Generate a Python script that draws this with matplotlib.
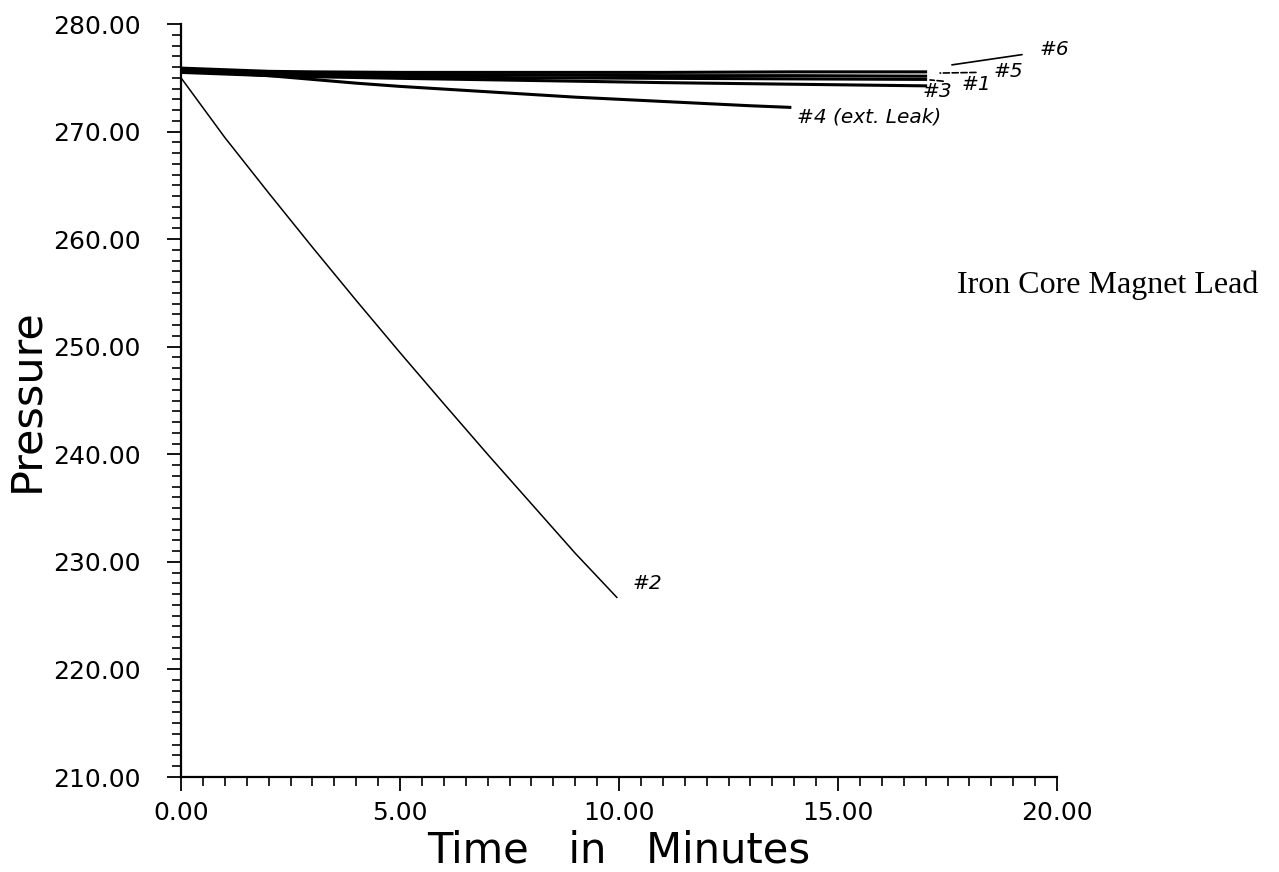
import matplotlib
matplotlib.use("Agg")
import matplotlib.pyplot as plt
from matplotlib.ticker import MultipleLocator, FormatStrFormatter

# ---- data ----
t_bundle = [0, 1, 2, 3, 5, 8, 11, 14, 17]
p_lead6 = [275.9, 275.75, 275.6, 275.55, 275.5, 275.5, 275.5, 275.55, 275.55]
p_lead5 = [275.8, 275.6, 275.45, 275.35, 275.3, 275.25, 275.2, 275.2, 275.15]
p_lead1 = [275.6, 275.45, 275.3, 275.2, 275.1, 275.0, 274.95, 274.9, 274.85]
p_lead3 = [275.5, 275.35, 275.2, 275.1, 274.95, 274.75, 274.55, 274.4, 274.25]

t_lead4 = [0, 1, 2, 3, 4, 5, 6, 7, 8, 9, 10, 11, 12, 13, 13.9]
p_lead4 = [275.7, 275.45, 275.2, 274.85, 274.5, 274.2, 273.95, 273.7, 273.45,
           273.2, 273.0, 272.8, 272.6, 272.4, 272.25]

t_lead2 = [0, 1, 2, 3, 4, 5, 6, 7, 8, 9, 9.95]
p_lead2 = [275.0, 269.45, 264.3, 259.25, 254.3, 249.45, 244.7, 240.0, 235.4,
           230.8, 226.7]

x_major = [0, 5, 10, 15, 20]
y_major = [210, 220, 230, 240, 250, 260, 270, 280]

# hand-written labels: (text, label position, leader start point, leader style)
labels = ["#6", "#5", "#1", "#3", "#4 (ext. Leak)", "#2"]
label_t = [19.95, 18.9, 18.15, 17.28, 14.06, 10.65]
label_p = [277.6, 275.55, 274.4, 273.68, 271.35, 228.0]
leader_t = [17.6, 17.33, 17.1, None, None, None]
leader_p = [276.2, 275.44, 274.8, None, None, None]
leader_ls = ["-", "--", "--", None, None, None]

W, H = 1279, 872
fig = plt.figure(figsize=(W / 100, H / 100), dpi=100)
L, R, T, B = 181, 1057, 24, 777
ax = fig.add_axes([L / W, 1 - B / H, (R - L) / W, (B - T) / H])

lw_thick = 2.2
ax.plot(t_bundle, p_lead6, color="black", lw=lw_thick)
ax.plot(t_bundle, p_lead5, color="black", lw=lw_thick)
ax.plot(t_bundle, p_lead1, color="black", lw=lw_thick)
ax.plot(t_bundle, p_lead3, color="black", lw=lw_thick)
ax.plot(t_lead4, p_lead4, color="black", lw=lw_thick)
ax.plot(t_lead2, p_lead2, color="black", lw=1.1)

hand = dict(family="DejaVu Sans", style="italic", fontsize=14.5, color="black")
for i, txt in enumerate(labels):
    if leader_t[i] is not None:
        ax.annotate(txt, xy=(leader_t[i], leader_p[i]),
                    xytext=(label_t[i], label_p[i]),
                    ha="center", va="center", **hand,
                    arrowprops=dict(arrowstyle="-", lw=1.2, color="black",
                                    linestyle=leader_ls[i], shrinkA=11, shrinkB=0))
    else:
        ax.text(label_t[i], label_p[i], txt,
                ha="left" if len(txt) > 3 else "center", va="center", **hand)

ax.set_xlim(0, 20)
ax.set_ylim(210, 280)
ax.spines["top"].set_visible(False)
ax.spines["right"].set_visible(False)
for s in ("left", "bottom"):
    ax.spines[s].set_linewidth(1.6)

ax.set_xticks(x_major)
ax.set_yticks(y_major)
ax.xaxis.set_minor_locator(MultipleLocator(0.5))
ax.yaxis.set_minor_locator(MultipleLocator(1))
ax.xaxis.set_major_formatter(FormatStrFormatter("%.2f"))
ax.yaxis.set_major_formatter(FormatStrFormatter("%.2f"))
ax.tick_params(which="major", direction="out", length=10, width=1.3,
               labelsize=18, colors="black")
ax.tick_params(axis="y", which="major", pad=19)
ax.tick_params(axis="x", which="major", pad=7)
ax.tick_params(which="minor", direction="out", length=6.5, width=1.2)

ax.set_xlabel("Time   in   Minutes", fontsize=30, va="baseline", ha="center")
ax.xaxis.set_label_coords(0.5, (B - 862) / (B - T))
ax.set_ylabel("Pressure", fontsize=31, va="baseline", ha="center")
ax.yaxis.set_label_coords((38 - L) / (R - L), 0.5)

fig.text(957 / W, 1 - 293 / H, "Iron Core Magnet Lead", family="Liberation Serif",
         fontsize=23, ha="left", va="baseline")

fig.savefig("out.png", dpi=100)
